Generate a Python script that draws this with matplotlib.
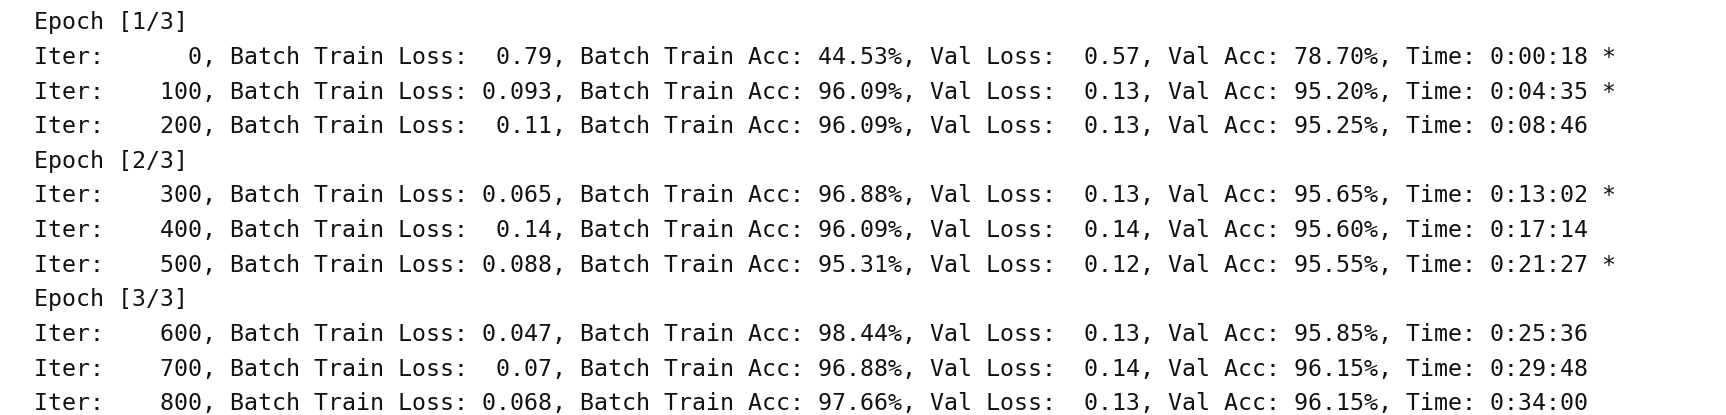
import matplotlib.pyplot as plt

# Training log values, one entry per evaluation step
epochs = [1, 2, 3]
n_epochs = 3
iters = [0, 100, 200, 300, 400, 500, 600, 700, 800]
train_loss = [0.79, 0.093, 0.11, 0.065, 0.14, 0.088, 0.047, 0.07, 0.068]
train_acc = [44.53, 96.09, 96.09, 96.88, 96.09, 95.31, 98.44, 96.88, 97.66]
val_loss = [0.57, 0.13, 0.13, 0.13, 0.14, 0.12, 0.13, 0.14, 0.13]
val_acc = [78.70, 95.20, 95.25, 95.65, 95.60, 95.55, 95.85, 96.15, 96.15]
times = ['0:00:18', '0:04:35', '0:08:46', '0:13:02', '0:17:14',
         '0:21:27', '0:25:36', '0:29:48', '0:34:00']
improved = ['*', '*', '', '*', '', '*', '', '', '']


# Build the console lines the same way the training loop prints them
def build_lines():
    lines = []
    per_epoch = len(iters) // len(epochs)
    for i in range(len(iters)):
        if i % per_epoch == 0:
            lines.append(f"Epoch [{epochs[i // per_epoch]}/{n_epochs}]")
        msg = (f"Iter: {iters[i]:>6}, "
               f"Batch Train Loss: {train_loss[i]:>5.2}, "
               f"Batch Train Acc: {train_acc[i]:>5.2f}%, "
               f"Val Loss: {val_loss[i]:>5.2}, "
               f"Val Acc: {val_acc[i]:>5.2f}%, "
               f"Time: {times[i]} {improved[i]}")
        lines.append(msg.rstrip())
    return lines


def create_plot():
    width, height = 1726, 415
    fig = plt.figure(figsize=(width / 100, height / 100), dpi=100)
    ax = fig.add_axes([0, 0, 1, 1])
    ax.set_xlim(0, width)
    ax.set_ylim(height, 0)  # pixel coords, top to bottom
    ax.axis('off')

    x0 = 33.5        # left edge of first character cell
    first = 29.3     # baseline of the first line
    step = 34.62     # line spacing

    for row, line in enumerate(build_lines()):
        ax.text(x0, first + row * step, line,
                family=['DejaVu Sans Mono'], fontsize=16.74,
                color='#111111', ha='left', va='baseline')

    fig.savefig('out.png', dpi=100, facecolor='white')


create_plot()
